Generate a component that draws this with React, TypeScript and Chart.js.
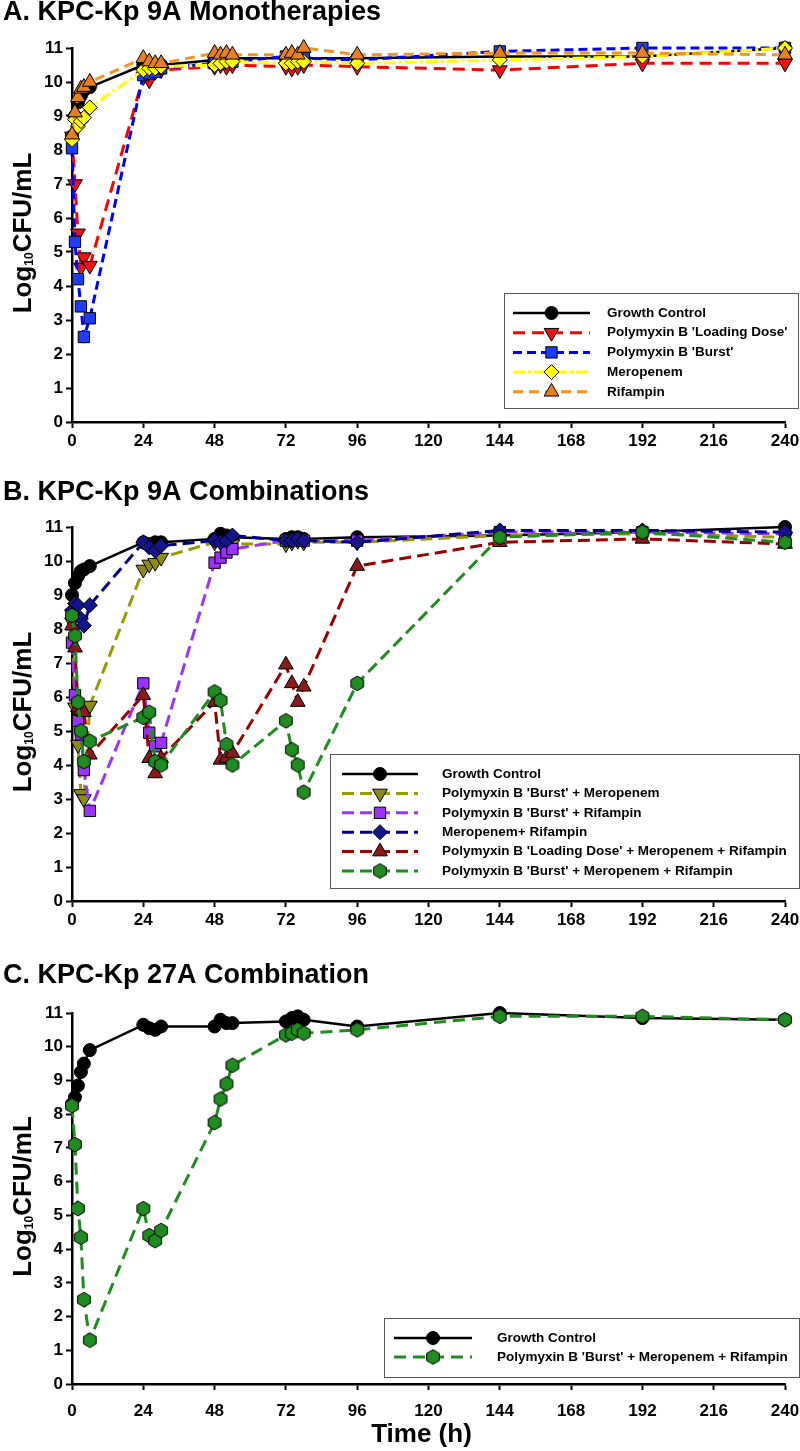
import React, { useEffect, useRef } from "react";
import { Chart, registerables } from "chart.js";
import { drawPoint } from "chart.js/helpers";

Chart.register(...registerables);

const FONT = "'Liberation Sans', Arial, Helvetica, sans-serif";

// ---------------- DATA ----------------
const HOURS = [0, 1, 2, 3, 4, 6, 24, 26, 28, 30, 48, 50, 52, 54, 72, 74, 76, 78, 96, 144, 192, 240];
const X_MIN = 0;
const X_MAX = 240;
const X_STEP = 24;
const Y_MIN = 0;
const Y_MAX = 11;
const Y_STEP = 1;

// Panel A – KPC-Kp 9A Monotherapies
const A_TITLE = "A. KPC-Kp 9A Monotherapies";
const A_LABELS = ["Growth Control", "Polymyxin B 'Loading Dose'", "Polymyxin B 'Burst'", "Meropenem", "Rifampin"];
const A_GROWTH = [8.4, 9.0, 9.4, 9.6, 9.75, 9.85, 10.5, 10.5, 10.45, 10.5, 10.65, 10.7, 10.7, 10.7, 10.7, 10.7, 10.7, 10.7, 10.7, 10.75, 10.75, 11.0];
const A_LOADING = [8.4, 7.0, 5.55, 4.55, 4.85, 4.6, 10.15, 10.05, 10.3, 10.35, 10.45, 10.5, 10.45, 10.5, 10.45, 10.4, 10.45, 10.5, 10.45, 10.35, 10.55, 10.55];
const A_BURST = [8.05, 5.3, 4.2, 3.4, 2.5, 3.05, 10.2, 10.25, 10.3, 10.4, 10.55, 10.55, 10.6, 10.6, 10.75, 10.7, 10.65, 10.7, 10.65, 10.9, 11.0, 11.0];
const A_MERO = [8.3, 8.9, 8.7, 8.85, 8.95, 9.25, 10.35, 10.4, 10.4, 10.45, 10.5, 10.55, 10.6, 10.6, 10.55, 10.55, 10.6, 10.6, 10.55, 10.65, 10.75, 11.0];
const A_RIF = [8.45, 9.1, 9.55, 9.8, 9.85, 10.0, 10.7, 10.6, 10.55, 10.55, 10.85, 10.8, 10.85, 10.8, 10.8, 10.85, 10.8, 11.0, 10.8, 10.85, 10.85, 10.8];

// Panel B – KPC-Kp 9A Combinations
const B_TITLE = "B. KPC-Kp 9A Combinations";
const B_LABELS = [
  "Growth Control",
  "Polymyxin B 'Burst' + Meropenem",
  "Polymyxin B 'Burst' + Rifampin",
  "Meropenem+ Rifampin",
  "Polymyxin B 'Loading Dose' + Meropenem + Rifampin",
  "Polymyxin B 'Burst' + Meropenem + Rifampin",
];
const B_GROWTH = [9.0, 9.35, 9.55, 9.7, 9.75, 9.85, 10.55, 10.5, 10.55, 10.55, 10.65, 10.8, 10.75, 10.7, 10.65, 10.7, 10.7, 10.65, 10.7, 10.75, 10.85, 11.0];
const B_BURST_MERO = [8.2, 5.7, 4.6, 3.15, 3.0, 5.75, 9.75, 9.9, 9.95, 10.1, 10.55, 10.55, 10.5, 10.5, 10.5, 10.55, 10.6, 10.55, 10.55, 10.75, 10.8, 10.7];
const B_BURST_RIF = [7.6, 6.05, 5.3, 4.9, 3.85, 2.65, 6.4, 4.95, 4.55, 4.65, 9.95, 10.1, 10.25, 10.35, 10.6, 10.6, 10.65, 10.6, 10.6, 10.85, 10.85, 10.8];
const B_MERO_RIF = [8.55, 8.75, 8.7, 8.3, 8.1, 8.7, 10.55, 10.4, 10.3, 10.45, 10.6, 10.55, 10.6, 10.75, 10.6, 10.6, 10.65, 10.6, 10.55, 10.9, 10.9, 10.85];
const B_LD_MERO_RIF = [8.1, 7.45, 5.7, 5.6, 5.55, 4.3, 6.05, 4.2, 3.75, 4.2, 5.85, 4.15, 4.2, 4.35, 6.95, 6.4, 5.85, 6.3, 9.85, 10.55, 10.65, 10.5];
const B_BURST_MERO_RIF = [8.4, 7.8, 5.85, 5.0, 4.1, 4.7, 5.4, 5.55, 4.1, 4.0, 6.15, 5.9, 4.6, 4.0, 5.3, 4.45, 4.0, 3.2, 6.4, 10.7, 10.85, 10.55];

// Panel C – KPC-Kp 27A Combination
const C_TITLE = "C. KPC-Kp 27A Combination";
const C_LABELS = ["Growth Control", "Polymyxin B 'Burst' + Meropenem + Rifampin"];
const C_GROWTH = [8.3, 8.5, 8.85, 9.25, 9.5, 9.9, 10.65, 10.55, 10.5, 10.6, 10.6, 10.8, 10.7, 10.7, 10.75, 10.85, 10.9, 10.8, 10.6, 11.0, 10.85, 10.8];
const C_BURST_MERO_RIF = [8.25, 7.1, 5.2, 4.35, 2.5, 1.3, 5.2, 4.4, 4.25, 4.55, 7.75, 8.45, 8.9, 9.45, 10.35, 10.4, 10.5, 10.4, 10.5, 10.9, 10.9, 10.8];

const X_TITLE = "Time (h)";
// --------------------------------------

function makeHexagon(fill: string): HTMLCanvasElement {
  const c = document.createElement("canvas");
  c.width = 16;
  c.height = 17;
  const g = c.getContext("2d")!;
  const cx = 8, cy = 8.5, r = 7.3;
  g.beginPath();
  for (let k = 0; k < 6; k++) {
    const a = -Math.PI / 2 + (k * Math.PI) / 3;
    const px = cx + r * Math.cos(a);
    const py = cy + r * Math.sin(a);
    if (k === 0) g.moveTo(px, py);
    else g.lineTo(px, py);
  }
  g.closePath();
  g.fillStyle = fill;
  g.fill();
  g.strokeStyle = "#000";
  g.lineWidth = 1;
  g.stroke();
  return c;
}

type Style = { line: string; fill: string; dash: number[]; width: number; point: any; r: number; rot?: number };

function series(label: string, values: number[], s: Style, order: number) {
  return {
    label,
    data: HOURS.map((h, i) => ({ x: h, y: values[i] })),
    borderColor: s.line,
    backgroundColor: s.fill,
    borderWidth: s.width,
    borderDash: s.dash,
    pointStyle: s.point,
    pointRotation: s.rot || 0,
    pointRadius: s.r,
    pointBackgroundColor: s.fill,
    pointBorderColor: "#000",
    pointBorderWidth: 1,
    tension: 0,
    clip: false as any,
    order,
  };
}

const boxLegend = {
  id: "boxLegend",
  afterDraw(chart: any, _a: any, o: any) {
    if (!o || !o.display) return;
    const ctx = chart.ctx;
    ctx.save();
    ctx.fillStyle = "#fff";
    ctx.fillRect(o.x, o.y, o.w, o.h);
    ctx.strokeStyle = "#555";
    ctx.lineWidth = 1;
    ctx.strokeRect(o.x + 0.5, o.y + 0.5, o.w, o.h);
    chart.data.datasets.forEach((d: any, i: number) => {
      const y = o.row0 + i * o.gap;
      ctx.save();
      ctx.setLineDash(d.borderDash || []);
      ctx.strokeStyle = d.borderColor;
      ctx.lineWidth = d.borderWidth;
      ctx.beginPath();
      ctx.moveTo(o.x0, y);
      ctx.lineTo(o.x1, y);
      ctx.stroke();
      ctx.restore();
      ctx.fillStyle = d.pointBackgroundColor;
      ctx.strokeStyle = "#000";
      ctx.lineWidth = 1;
      drawPoint(ctx, { pointStyle: d.pointStyle, rotation: d.pointRotation || 0, radius: d.pointRadius, borderWidth: 1 } as any, (o.x0 + o.x1) / 2, y);
      ctx.fillStyle = "#000";
      ctx.font = o.font;
      ctx.textAlign = "left";
      ctx.textBaseline = "middle";
      ctx.fillText(d.label, o.tx, y);
    });
    ctx.restore();
  },
};

const panelText = {
  id: "panelText",
  afterDraw(chart: any, _a: any, o: any) {
    if (!o) return;
    const ctx = chart.ctx;
    const ca = chart.chartArea;
    ctx.save();
    ctx.fillStyle = "#000";
    ctx.font = `bold 27px ${FONT}`;
    ctx.textAlign = "left";
    ctx.textBaseline = "middle";
    ctx.fillText(o.title, 3, o.titleY);
    // y title with subscript
    const big = `bold 26px ${FONT}`;
    const small = `bold 12px ${FONT}`;
    ctx.font = big;
    const w1 = ctx.measureText("Log").width;
    const w3 = ctx.measureText("CFU/mL").width;
    ctx.font = small;
    const w2 = ctx.measureText("10").width;
    ctx.translate(31, (ca.top + ca.bottom) / 2 - 2);
    ctx.rotate(-Math.PI / 2);
    ctx.textBaseline = "alphabetic";
    let x = -(w1 + w2 + w3) / 2;
    ctx.font = big;
    ctx.fillText("Log", x, 0);
    x += w1;
    ctx.font = small;
    ctx.fillText("10", x, 2);
    x += w2;
    ctx.font = big;
    ctx.fillText("CFU/mL", x, 0);
    ctx.restore();
    if (o.xTitle) {
      ctx.save();
      ctx.fillStyle = "#000";
      ctx.font = `bold 26px ${FONT}`;
      ctx.textAlign = "center";
      ctx.textBaseline = "middle";
      ctx.fillText(o.xTitle, (ca.left + ca.right) / 2 - 7, o.xTitleY);
      ctx.restore();
    }
  },
};

function makeConfig(datasets: any[], p: any) {
  const tickFont = { family: FONT, size: 17, weight: "bold" as const };
  return {
    type: "line" as const,
    data: { datasets },
    plugins: [boxLegend, panelText],
    options: {
      responsive: false,
      animation: false as const,
      devicePixelRatio: 1,
      events: [],
      layout: { autoPadding: false, padding: { top: p.top, right: 15, left: 0, bottom: 0 } },
      scales: {
        x: {
          type: "linear" as const,
          min: X_MIN,
          max: X_MAX,
          ticks: { stepSize: X_STEP, color: "#000", font: tickFont, padding: p.xPad, maxRotation: 0 },
          grid: { display: true, drawOnChartArea: false, drawTicks: true, tickLength: 6, tickWidth: 2, tickColor: "#000" },
          border: { display: true, color: "#000", width: 2.5 },
          afterFit: (s: any) => {
            s.height = p.xH;
            s.paddingLeft = 0;
            s.paddingRight = 0;
          },
        },
        y: {
          type: "linear" as const,
          min: Y_MIN,
          max: Y_MAX,
          ticks: { stepSize: Y_STEP, color: "#000", font: tickFont, padding: 3 },
          grid: { display: true, drawOnChartArea: false, drawTicks: true, tickLength: 6, tickWidth: 2, tickColor: "#000" },
          border: { display: true, color: "#000", width: 2.5 },
          afterFit: (s: any) => {
            s.width = 72;
            s.paddingTop = 0;
            s.paddingBottom = 0;
          },
        },
      },
      plugins: {
        legend: { display: false },
        title: { display: false },
        tooltip: { enabled: false },
        boxLegend: p.legend,
        panelText: p.text,
      },
    },
  };
}

function Panel({ build, top, height }: { build: () => any; top: number; height: number }) {
  const ref = useRef<HTMLCanvasElement | null>(null);
  useEffect(() => {
    const chart = new Chart(ref.current as HTMLCanvasElement, build());
    return () => chart.destroy();
  }, []);
  return (
    <canvas
      ref={ref}
      width={800}
      height={height}
      style={{ position: "absolute", left: 0, top, width: 800, height, display: "block" }}
    />
  );
}

const LEGEND_FONT = `bold 13.5px ${FONT}`;

function buildA() {
  const n = 5;
  const ds = [
    series(A_LABELS[0], A_GROWTH, { line: "#000", fill: "#000", dash: [], width: 2.5, point: "circle", r: 6.5 }, n),
    series(A_LABELS[1], A_LOADING, { line: "#FF0000", fill: "#F01010", dash: [12, 7], width: 3, point: "triangle", rot: 180, r: 8.5 }, n - 1),
    series(A_LABELS[2], A_BURST, { line: "#0000FF", fill: "#1E3CFF", dash: [9, 5], width: 3, point: "rect", r: 8 }, n - 2),
    series(A_LABELS[3], A_MERO, { line: "#FFFF00", fill: "#FFFF00", dash: [12, 3, 3, 3], width: 3, point: "rectRot", r: 7.5 }, n - 3),
    series(A_LABELS[4], A_RIF, { line: "#F7941D", fill: "#E8801E", dash: [10, 6], width: 3, point: "triangle", r: 8.5 }, n - 4),
  ];
  return makeConfig(ds, {
    top: 48,
    xH: 43,
    xPad: 3,
    legend: { display: true, x: 504, y: 293, w: 294, h: 115, row0: 313, gap: 19.7, x0: 513, x1: 590, tx: 607, font: LEGEND_FONT },
    text: { title: A_TITLE, titleY: 13 },
  });
}

function buildB() {
  const hex = makeHexagon("#1E8C1E");
  const n = 6;
  const ds = [
    series(B_LABELS[0], B_GROWTH, { line: "#000", fill: "#000", dash: [], width: 2.5, point: "circle", r: 6.5 }, n),
    series(B_LABELS[1], B_BURST_MERO, { line: "#999900", fill: "#8C8C14", dash: [12, 6], width: 3, point: "triangle", rot: 180, r: 8.5 }, n - 1),
    series(B_LABELS[2], B_BURST_RIF, { line: "#9933FF", fill: "#9B30FF", dash: [12, 6], width: 3, point: "rect", r: 8 }, n - 2),
    series(B_LABELS[3], B_MERO_RIF, { line: "#00008B", fill: "#14148C", dash: [12, 6], width: 3, point: "rectRot", r: 7.5 }, n - 3),
    series(B_LABELS[4], B_LD_MERO_RIF, { line: "#990000", fill: "#8B1A1A", dash: [12, 6], width: 3, point: "triangle", r: 8.5 }, n - 4),
    series(B_LABELS[5], B_BURST_MERO_RIF, { line: "#1E8C1E", fill: "#1E8C1E", dash: [12, 6], width: 3, point: hex, r: 7 }, n - 5),
  ];
  return makeConfig(ds, {
    top: 62,
    xH: 44,
    xPad: 3,
    legend: { display: true, x: 330, y: 289, w: 469, h: 134, row0: 309, gap: 19.4, x0: 342, x1: 418, tx: 442, font: LEGEND_FONT },
    text: { title: B_TITLE, titleY: 28 },
  });
}

function buildC() {
  const hex = makeHexagon("#1E8C1E");
  const ds = [
    series(C_LABELS[0], C_GROWTH, { line: "#000", fill: "#000", dash: [], width: 2.5, point: "circle", r: 6.5 }, 2),
    series(C_LABELS[1], C_BURST_MERO_RIF, { line: "#1E8C1E", fill: "#1E8C1E", dash: [12, 7], width: 3, point: hex, r: 7 }, 1),
  ];
  return makeConfig(ds, {
    top: 68,
    xH: 67,
    xPad: 11,
    legend: { display: true, x: 384, y: 373, w: 415, h: 59, row0: 393, gap: 19, x0: 394, x1: 472, tx: 497, font: LEGEND_FONT },
    text: { title: C_TITLE, titleY: 31, xTitle: X_TITLE, xTitleY: 490 },
  });
}

export default function App() {
  return (
    <div style={{ position: "absolute", left: 0, top: 0, width: 800, height: 1451, background: "#fff" }}>
      <Panel build={buildA} top={0} height={465} />
      <Panel build={buildB} top={465} height={480} />
      <Panel build={buildC} top={945} height={506} />
    </div>
  );
}
